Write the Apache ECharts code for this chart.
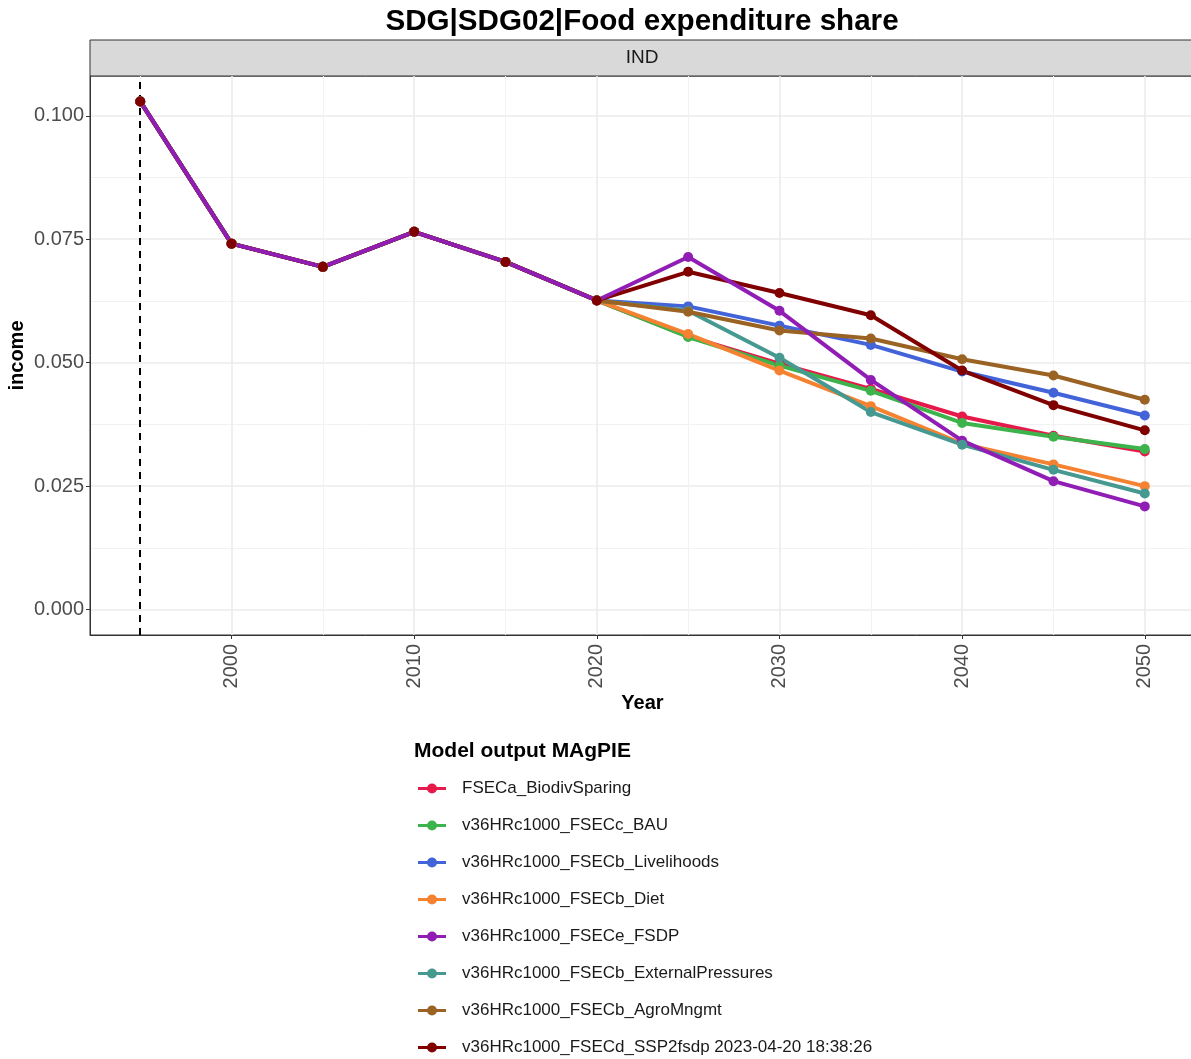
<!DOCTYPE html>
<html>
<head>
<meta charset="utf-8">
<script src="https://cdn.jsdelivr.net/npm/echarts@6/dist/echarts.min.js"></script>
<style>
html,body{margin:0;padding:0;background:#fff;}
#chart{width:1191px;height:1059px;}
</style>
</head>
<body>
<div id="chart"></div>
<script>
// ---- data ----
const years = [1995, 2000, 2005, 2010, 2015, 2020, 2025, 2030, 2035, 2040, 2045, 2050];
const history = [0.1029, 0.0741, 0.0694, 0.0765, 0.0704, 0.0626]; // 1995..2020
const seriesNames = [
  'FSECa_BiodivSparing',
  'v36HRc1000_FSECc_BAU',
  'v36HRc1000_FSECb_Livelihoods',
  'v36HRc1000_FSECb_Diet',
  'v36HRc1000_FSECe_FSDP',
  'v36HRc1000_FSECb_ExternalPressures',
  'v36HRc1000_FSECb_AgroMngmt',
  'v36HRc1000_FSECd_SSP2fsdp 2023-04-20 18:38:26'
];
// 2025..2050
const biodivSparing   = [0.0553, 0.0498, 0.0447, 0.0391, 0.0352, 0.0320];
const bau             = [0.0552, 0.0494, 0.0443, 0.0378, 0.0350, 0.0325];
const livelihoods     = [0.0614, 0.0575, 0.0536, 0.0482, 0.0439, 0.0393];
const diet            = [0.0558, 0.0484, 0.0412, 0.0336, 0.0294, 0.0250];
const fsdp            = [0.0714, 0.0605, 0.0465, 0.0342, 0.0260, 0.0209];
const externalPress   = [0.0605, 0.0510, 0.0400, 0.0334, 0.0283, 0.0235];
const agroMngmt       = [0.0603, 0.0565, 0.0549, 0.0507, 0.0474, 0.0425];
const ssp2fsdp        = [0.0684, 0.0641, 0.0596, 0.0484, 0.0414, 0.0363];
const futures = [biodivSparing, bau, livelihoods, diet, fsdp, externalPress, agroMngmt, ssp2fsdp];
const colors = ['#e6194b', '#3cb44b', '#4363d8', '#f58231', '#911eb4', '#469990', '#9a6324', '#800000'];
const lineOrder = [2, 3, 4, 5, 9, 6, 7, 8];

const xMajor = [2000, 2010, 2020, 2030, 2040, 2050];
const xMinor = [1995, 2005, 2015, 2025, 2035, 2045];
const yMajor = [0, 0.025, 0.05, 0.075, 0.1];
const yMinor = [0.0125, 0.0375, 0.0625, 0.0875];
const refYear = 1995;

const FONT = 'Liberation Sans, Arial, sans-serif';

const series = [];
seriesNames.forEach((name, i) => {
  const vals = history.concat(futures[i]);
  const data = years.map((y, j) => [y, vals[j]]);
  series.push({
    type: 'scatter', name: name, data: data,
    symbol: 'circle', symbolSize: 10,
    itemStyle: { color: colors[i], opacity: 1 },
    z: 10 + i, silent: true
  });
  const ls = {
    type: 'line', name: name, data: data,
    symbol: 'none', showSymbol: false,
    lineStyle: { width: 4, color: colors[i] },
    itemStyle: { color: colors[i] },
    z: lineOrder[i], silent: true
  };
  if (i === 0) {
    ls.markLine = {
      silent: true, symbol: 'none', label: { show: false },
      lineStyle: { type: [7, 6], color: '#000', width: 2 },
      data: [{ xAxis: refYear }]
    };
  }
  series.push(ls);
});

const iconPath = 'path://M0,4.5 L28,4.5 L28,7.5 L0,7.5 Z M19,6 A5,5 0 1 1 9,6 A5,5 0 1 1 19,6 Z';

const chart = echarts.init(document.getElementById('chart'), null, { renderer: 'canvas' });
chart.setOption({
  animation: false,
  backgroundColor: '#fff',
  textStyle: { fontFamily: FONT },
  grid: {
    left: 90, top: 76, width: 1105, height: 559,
    show: true, borderColor: '#333', borderWidth: 1, backgroundColor: 'transparent',
    containLabel: false, outerBoundsMode: 'none'
  },
  xAxis: [
    {
      type: 'value', min: 1992.25, max: 2052.75, position: 'bottom',
      name: 'Year', nameLocation: 'middle', nameGap: 58, nameMoveOverlap: false,
      nameTextStyle: { fontFamily: FONT, fontSize: 20, fontWeight: 'bold', color: '#000' },
      axisLine: { show: true, onZero: false, lineStyle: { color: '#333', width: 1 } },
      axisTick: { show: true, length: 4, customValues: xMajor, lineStyle: { color: '#333' } },
      axisLabel: { show: true, customValues: xMajor, rotate: 90, margin: 9, fontFamily: FONT, fontSize: 20, color: '#4d4d4d', formatter: v => String(v) },
      splitLine: { show: true, lineStyle: { color: '#ebebeb', width: 1.6 } }
    },
    {
      type: 'value', min: 1992.25, max: 2052.75, position: 'top',
      axisLine: { show: false, onZero: false }, axisTick: { show: false, customValues: xMinor },
      axisLabel: { show: false, customValues: xMinor },
      splitLine: { show: true, lineStyle: { color: '#f2f2f2', width: 1 } }
    }
  ],
  yAxis: [
    {
      type: 'value', min: -0.005145, max: 0.10805, position: 'left',
      name: 'income', nameLocation: 'middle', nameGap: 63, nameRotate: 90, nameMoveOverlap: false,
      nameTextStyle: { fontFamily: FONT, fontSize: 20, fontWeight: 'bold', color: '#000' },
      axisLine: { show: true, onZero: false, lineStyle: { color: '#333', width: 1 } },
      axisTick: { show: true, length: 4, customValues: yMajor, lineStyle: { color: '#333' } },
      axisLabel: { show: true, customValues: yMajor, margin: 6, fontFamily: FONT, fontSize: 20, color: '#4d4d4d', formatter: v => v.toFixed(3) },
      splitLine: { show: true, lineStyle: { color: '#ebebeb', width: 1.6 } }
    },
    {
      type: 'value', min: -0.005145, max: 0.10805, position: 'right',
      axisLine: { show: false, onZero: false }, axisTick: { show: false, customValues: yMinor },
      axisLabel: { show: false, customValues: yMinor },
      splitLine: { show: true, lineStyle: { color: '#f2f2f2', width: 1 } }
    }
  ],
  legend: {
    orient: 'vertical', left: 418, top: 780, height: 320, padding: 0,
    itemWidth: 28, itemHeight: 10, itemGap: 20,
    icon: iconPath,
    selectedMode: false,
    data: seriesNames,
    textStyle: { fontFamily: FONT, fontSize: 17, color: '#1a1a1a', lineHeight: 16, padding: [0, 0, 0, 11] }
  },
  graphic: [
    { type: 'text', x: 642, y: 22, style: { text: 'SDG|SDG02|Food expenditure share', font: 'bold 29.6px ' + FONT, fill: '#000', align: 'center', verticalAlign: 'middle' } },
    { type: 'rect', x: 90, y: 40, shape: { x: 0, y: 0, width: 1105, height: 36 }, style: { fill: '#d9d9d9', stroke: '#333', lineWidth: 1 } },
    { type: 'text', x: 642, y: 58, style: { text: 'IND', font: '19px ' + FONT, fill: '#1a1a1a', align: 'center', verticalAlign: 'middle' } },
    { type: 'text', x: 414, y: 751, style: { text: 'Model output MAgPIE', font: 'bold 21px ' + FONT, fill: '#000', align: 'left', verticalAlign: 'middle' } }
  ],
  series: series
});
</script>
</body>
</html>
